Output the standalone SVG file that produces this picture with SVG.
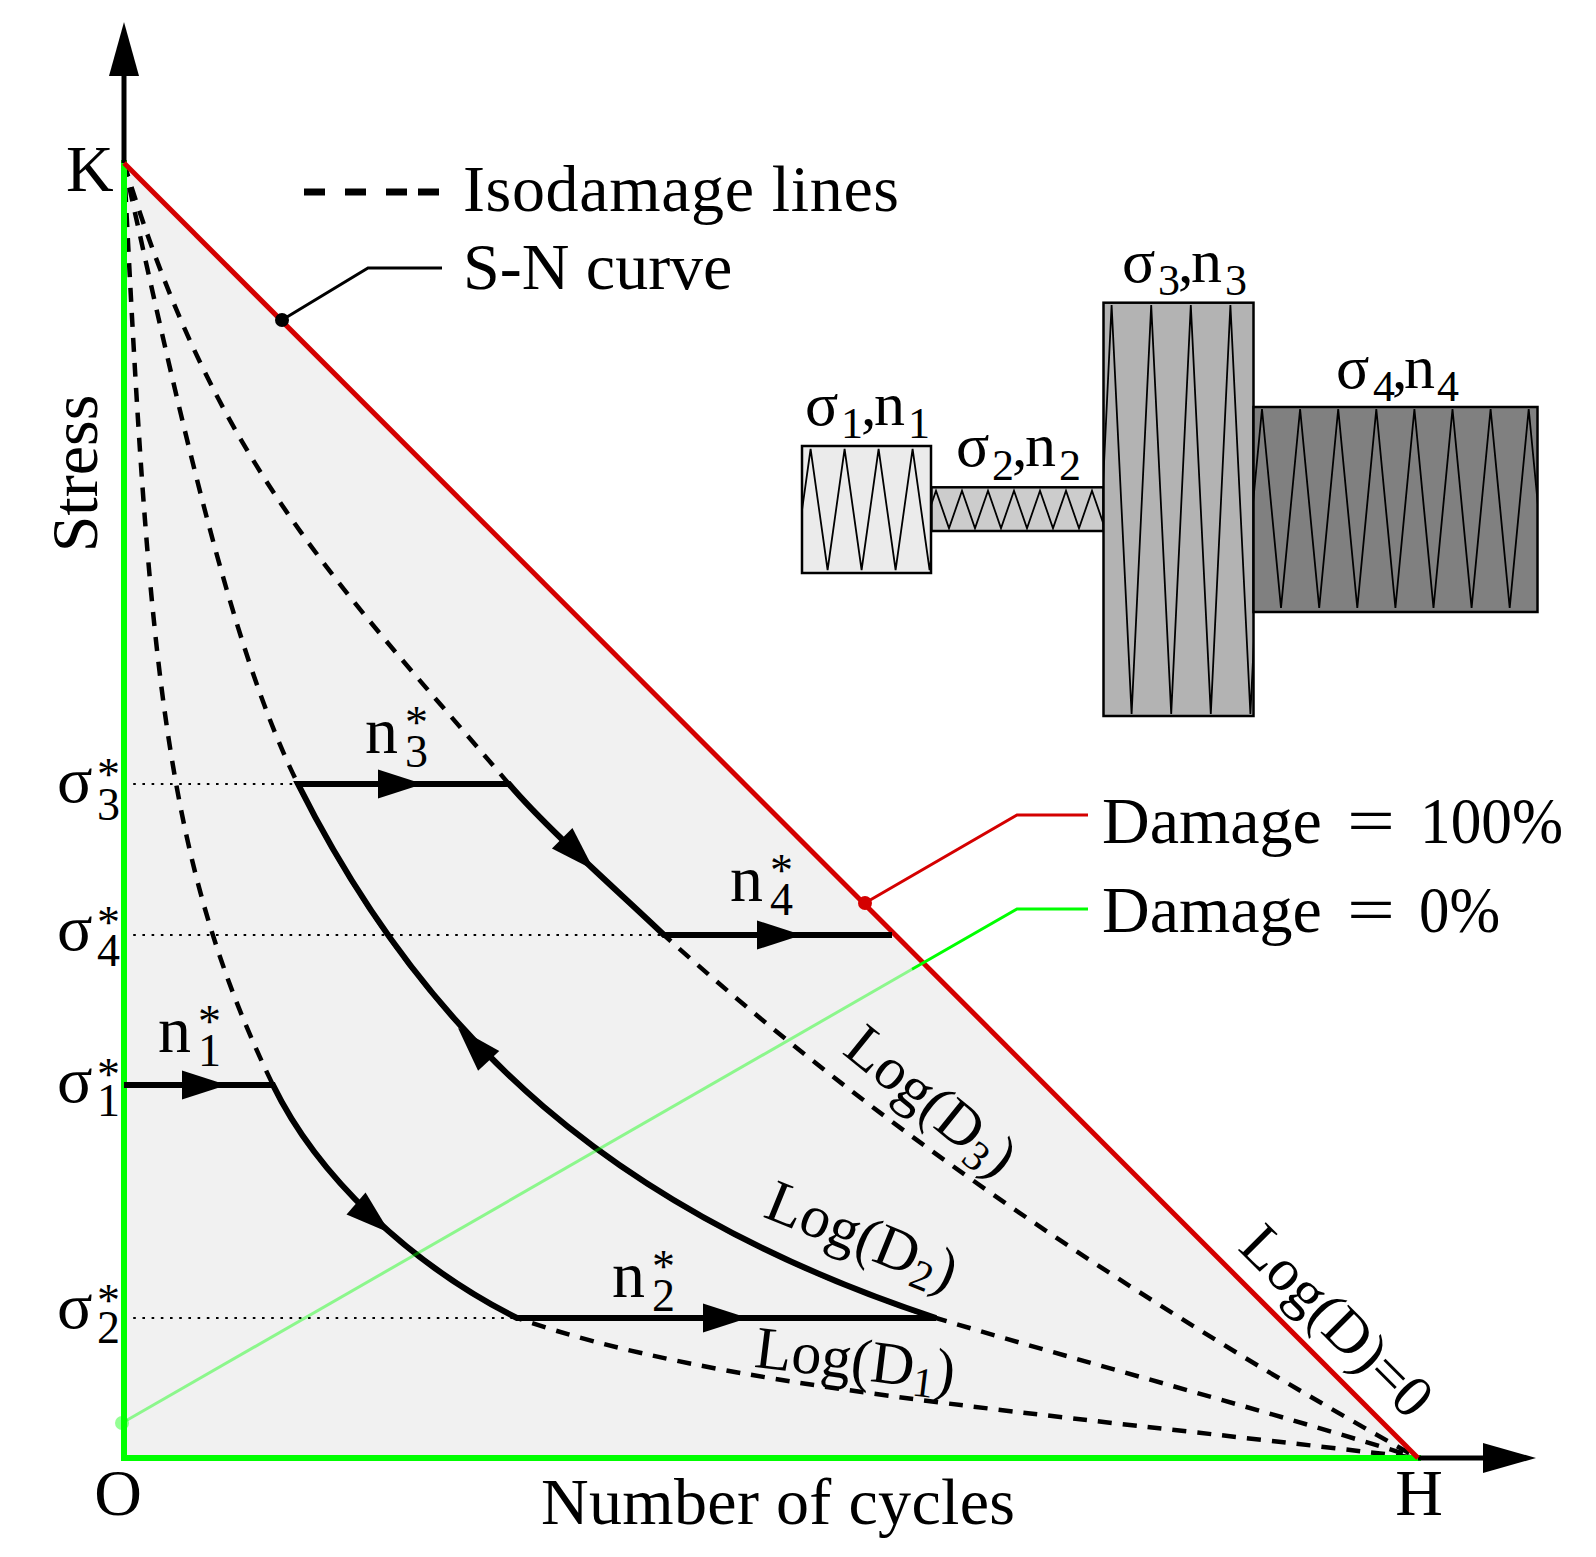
<svg xmlns="http://www.w3.org/2000/svg" width="1596" height="1557" viewBox="0 0 1596 1557">
<defs>
<style>
text { font-family: "Liberation Serif", "Times New Roman", serif; fill: #000; }
.big { font-size: 66px; }
.sub { font-size: 46px; }
.lbl { font-size: 62px; }
.lsub { font-size: 44px; }
.log { font-size: 60px; }
.dash { fill: none; stroke: #000; stroke-width: 4.5; stroke-dasharray: 14 11; }
.solid { fill: none; stroke: #000; stroke-width: 6; stroke-linejoin: miter; }
.dotl { fill: none; stroke: #000; stroke-width: 2.2; stroke-dasharray: 2.6 6.6; }
.zig { fill: none; stroke: #000; stroke-width: 1.8; stroke-linejoin: miter; }
.frame { fill: none; stroke: #000; stroke-width: 2.5; }
.lead { fill: none; stroke-width: 3; }
</style>
<clipPath id="cb1"><rect x="802" y="446" width="129" height="127"/></clipPath>
<clipPath id="cb2"><rect x="931.5" y="487.3" width="172" height="43.7"/></clipPath>
<clipPath id="cb3"><rect x="1103.5" y="302.7" width="150" height="413.3"/></clipPath>
<clipPath id="cb4"><rect x="1253.5" y="407" width="284" height="205"/></clipPath>
<path id="ah" d="M0,0 L-45,-14.5 L-45,14.5 Z" fill="#000"/>
</defs>

<rect width="1596" height="1557" fill="#fff"/>

<g id="plot-area">
  <polygon points="124,163 124,1458 1418,1458" fill="#f1f1f1"/>
</g>

<g id="guide-lines">
  <line class="dotl" x1="124" y1="784" x2="298" y2="784"/>
  <line class="dotl" x1="124" y1="935" x2="664" y2="935"/>
  <line class="dotl" x1="124" y1="1318" x2="517" y2="1318"/>
</g>

<g id="isodamage-lines">
  <path id="d1" class="dash" d="M124,163 C149,663 163.75,860 273,1085 C316.7,1175 409.7,1264.3 517,1318 C717,1388 1018,1410 1418,1458"/>
  <path id="d2" class="dash" d="M124,163 C177.8,407 231,650 298,784 C425.5,1039 613,1211.5 936,1318 C1096,1366 1258,1408 1418,1458"/>
  <path id="d3" class="dash" d="M124,163 C216.8,469.2 340.5,585.9 509,784 C547.9,829.7 620.8,893.6 664,935 C886,1136 1155.8,1312.2 1418,1458"/>
</g>

<g id="axes">
  <polyline points="124,163 124,1458 1418,1458" fill="none" stroke="#00ff00" stroke-width="6" stroke-linejoin="miter" stroke-linecap="square"/>
  <line x1="124" y1="163" x2="124" y2="74" stroke="#000" stroke-width="5"/>
  <polygon points="124,22 109,76 139,76" fill="#000"/>
  <line x1="1418" y1="1458" x2="1486" y2="1458" stroke="#000" stroke-width="5"/>
  <polygon points="1536,1458 1483,1443 1483,1473" fill="#000"/>
</g>

<g id="sn-curve">
  <line x1="124" y1="163" x2="1418" y2="1458" stroke="#d40000" stroke-width="5"/>
</g>

<g id="loading-path">
  <path class="solid" d="M124,1085 H273 C316.7,1175 409.7,1264.3 517,1318 H936 C613,1211.5 425.5,1039 298,784 H509 C547.9,829.7 620.8,893.6 664,935 H892"/>
  <use href="#ah" transform="translate(227,1085)"/>
  <use href="#ah" transform="translate(423,784)"/>
  <use href="#ah" transform="translate(802,935)"/>
  <use href="#ah" transform="translate(748,1318)"/>
  <use href="#ah" transform="translate(594,870) rotate(45)"/>
  <use href="#ah" transform="translate(390,1233) rotate(41)"/>
  <use href="#ah" transform="translate(458,1028) rotate(-133)"/>
</g>

<g id="connectors">
  <polyline class="lead" points="282,320 368,268 442,268" stroke="#000"/>
  <circle cx="282" cy="320" r="7" fill="#000"/>
  <polyline class="lead" points="865,903 1017,815 1088,815" stroke="#d40000"/>
  <circle cx="865" cy="903" r="7" fill="#d40000"/>
  <polyline class="lead" points="912,969.3 1017,909 1088,909" stroke="#00ff00"/>
  <line class="lead" x1="912" y1="969.3" x2="122" y2="1423" stroke="#00ff00" stroke-opacity="0.42"/>
  <circle cx="122" cy="1423" r="7" fill="#00ff00" fill-opacity="0.42"/>
</g>

<g id="legend">
  <path d="M304,192 H325 M345,192 H366 M386,192 H407 M418,192 H439" stroke="#000" stroke-width="7" fill="none"/>
  <text class="big" x="463" y="211" textLength="436" lengthAdjust="spacing">Isodamage lines</text>
  <text class="big" x="463" y="289">S-N curve</text>
  <text class="big" x="1102" y="843">Damage</text>
  <text class="big" x="1347" y="843" textLength="48" lengthAdjust="spacingAndGlyphs">=</text>
  <text class="big" x="1420" y="843" textLength="143" lengthAdjust="spacingAndGlyphs">100%</text>
  <text class="big" x="1102" y="932">Damage</text>
  <text class="big" x="1347" y="932" textLength="48" lengthAdjust="spacingAndGlyphs">=</text>
  <text class="big" x="1419" y="932" textLength="81" lengthAdjust="spacingAndGlyphs">0%</text>
</g>

<g id="axis-labels">
  <text class="big" x="66" y="190.5">K</text>
  <text class="big" x="118" y="1515" text-anchor="middle">O</text>
  <text class="big" x="1419" y="1515" text-anchor="middle">H</text>
  <text class="big" transform="translate(97,473.5) rotate(-90)" text-anchor="middle">Stress</text>
  <text class="big" x="541" y="1524" textLength="474" lengthAdjust="spacing">Number of cycles</text>
</g>

<g id="stress-levels">
  <text class="big" x="57" y="802">σ<tspan class="sub" x="97" y="790">*</tspan><tspan class="sub" x="97" y="820">3</tspan></text>
  <text class="big" x="57" y="950">σ<tspan class="sub" x="97" y="938">*</tspan><tspan class="sub" x="97" y="966">4</tspan></text>
  <text class="big" x="57" y="1102">σ<tspan class="sub" x="97" y="1090">*</tspan><tspan class="sub" x="97" y="1116">1</tspan></text>
  <text class="big" x="57" y="1328">σ<tspan class="sub" x="97" y="1316">*</tspan><tspan class="sub" x="97" y="1343">2</tspan></text>
</g>

<g id="cycle-labels">
  <text class="big" x="365" y="753">n<tspan class="sub" x="405" y="738">*</tspan><tspan class="sub" x="405" y="767">3</tspan></text>
  <text class="big" x="730" y="901">n<tspan class="sub" x="770" y="886">*</tspan><tspan class="sub" x="770" y="915">4</tspan></text>
  <text class="big" x="158" y="1052">n<tspan class="sub" x="198" y="1037">*</tspan><tspan class="sub" x="198" y="1066">1</tspan></text>
  <text class="big" x="612" y="1297">n<tspan class="sub" x="652" y="1282">*</tspan><tspan class="sub" x="652" y="1311">2</tspan></text>
</g>

<g id="damage-labels">
  <text class="log" transform="translate(919,1116) rotate(39)" text-anchor="middle">Log(D<tspan font-size="42" dy="9">3</tspan><tspan dy="-9">)</tspan></text>
  <text class="log" transform="translate(855,1254) rotate(22)" text-anchor="middle">Log(D<tspan font-size="42" dy="9">2</tspan><tspan dy="-9">)</tspan></text>
  <text class="log" transform="translate(853,1379) rotate(7)" text-anchor="middle">Log(D<tspan font-size="42" dy="9">1</tspan><tspan dy="-9">)</tspan></text>
  <text class="log" transform="translate(1323,1335) rotate(45)" text-anchor="middle">Log(D)=0</text>
</g>

<g id="block-1">
  <rect x="802" y="446" width="129" height="127" fill="#ebebeb"/>
  <polyline class="zig" clip-path="url(#cb1)" points="793.6,570 810.6,449 827.6,570 844.6,449 861.6,570 878.6,449 895.6,570 912.6,449 929.6,570 946.6,449"/>
  <rect class="frame" x="802" y="446" width="129" height="127"/>
  <text class="lbl" x="805" y="425">σ<tspan class="lsub" x="841" y="438">1</tspan><tspan x="861" y="425">,</tspan><tspan x="874" y="425">n</tspan><tspan class="lsub" x="908" y="438">1</tspan></text>
</g>

<g id="block-2">
  <rect x="931.5" y="487.3" width="172" height="43.7" fill="#cccccc"/>
  <polyline class="zig" clip-path="url(#cb2)" points="910,490.7 923,528.3 936,490.7 949,528.3 962,490.7 975,528.3 988,490.7 1001,528.3 1014,490.7 1027,528.3 1040,490.7 1053,528.3 1066,490.7 1079,528.3 1092,490.7 1105,528.3 1118,490.7"/>
  <rect class="frame" x="931.5" y="487.3" width="172" height="43.7"/>
  <text class="lbl" x="956" y="466">σ<tspan class="lsub" x="992" y="480">2</tspan><tspan x="1012" y="466">,</tspan><tspan x="1025" y="466">n</tspan><tspan class="lsub" x="1059" y="480">2</tspan></text>
</g>

<g id="block-3">
  <rect x="1103.5" y="302.7" width="150" height="413.3" fill="#b3b3b3"/>
  <polyline class="zig" clip-path="url(#cb3)" points="1072,305 1092,714 1111.6,305 1131.6,714 1151.2,305 1171.2,714 1190.8,305 1210.8,714 1230.4,305 1250.4,714 1270,305"/>
  <rect class="frame" x="1103.5" y="302.7" width="150" height="413.3"/>
  <text class="lbl" x="1122" y="282">σ<tspan class="lsub" x="1158" y="295">3</tspan><tspan x="1178" y="282">,</tspan><tspan x="1191" y="282">n</tspan><tspan class="lsub" x="1225" y="295">3</tspan></text>
</g>

<g id="block-4">
  <rect x="1253.5" y="407" width="284" height="205" fill="#808080"/>
  <polyline class="zig" clip-path="url(#cb4)" points="1223.9,409 1243,608 1262,409 1281,608 1300.1,409 1319.2,608 1338.2,409 1357.3,608 1376.3,409 1395.4,608 1414.4,409 1433.5,608 1452.5,409 1471.6,608 1490.6,409 1509.7,608 1528.7,409 1547.8,608"/>
  <rect class="frame" x="1253.5" y="407" width="284" height="205"/>
  <text class="lbl" x="1336" y="388">σ<tspan class="lsub" x="1373" y="401">4</tspan><tspan x="1392" y="388">,</tspan><tspan x="1404" y="388">n</tspan><tspan class="lsub" x="1437" y="401">4</tspan></text>
</g>
</svg>
